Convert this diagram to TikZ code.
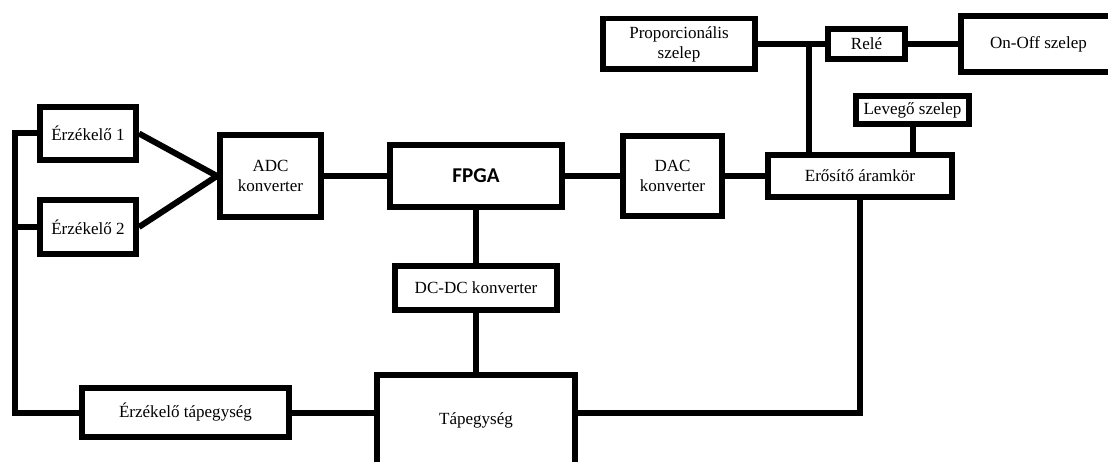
\documentclass[tikz,border=0pt]{standalone}
\usepackage{fontspec}
\setmainfont{Liberation Serif}
\newfontfamily\fpgafont{Carlito}
\tikzset{
  blokk/.style={draw, line width=1.2mm, inner sep=0pt, align=center,
    font=\fontsize{9.7}{11.5}\selectfont},
  vonal/.style={line width=1.2mm}
}
\begin{document}
\begin{tikzpicture}[x=0.02cm, y=-0.02cm]
  \useasboundingbox (0,0) rectangle (1108,462);
  \node[blokk, minimum width=1.92cm, minimum height=1.07cm] (erz1) at (88,133.5) {Érzékelő 1};
  \node[blokk, minimum width=1.92cm, minimum height=1.07cm] (erz2) at (88,227) {Érzékelő 2};
  \node[blokk, minimum width=2.02cm, minimum height=1.66cm] (adc) at (270.5,176) {ADC\\konverter};
  \node[blokk, minimum width=3.44cm, minimum height=1.24cm,
    font=\fpgafont\bfseries\fontsize{12}{14}\selectfont] (fpga) at (476,176) {FPGA};
  \node[blokk, minimum width=1.98cm, minimum height=1.62cm] (dac) at (672.5,176) {DAC\\konverter};
  \node[blokk, minimum width=3.26cm, minimum height=0.88cm] (dcdc) at (476,288) {DC-DC konverter};
  \node[blokk, minimum width=3.68cm, minimum height=0.84cm] (erosito) at (860,176) {Erősítő áramkör};
  \node[blokk, minimum width=3.04cm, minimum height=1.02cm] (prop) at (679,44) {Proporcionális\\szelep};
  \node[blokk, minimum width=1.54cm, minimum height=0.60cm] (rele) at (866.5,44) {Relé};
  \node[blokk, minimum width=3.10cm, minimum height=1.12cm] (onoff) at (1038.5,44) {On-Off szelep};
  \node[blokk, minimum width=2.26cm, minimum height=0.56cm] (levego) at (912.5,110) {Levegő szelep};
  \node[blokk, minimum width=4.14cm, minimum height=0.98cm] (erztap) at (185.5,412.5) {Érzékelő tápegység};
  \node[blokk, minimum width=3.96cm, minimum height=1.80cm] (tap) at (476,420) {Tápegység};
  \coordinate (sin) at (15,0);
  \coordinate (elag) at (809,0);
  \begin{scope}[vonal]
    \draw (erz1.west) -- (erz1.west -| sin) |- (erztap.west);
    \draw (erz2.west) -- (erz2.west -| sin);
    \draw (erz1.east) -- (adc.west);
    \draw (erz2.east) -- (adc.west);
    \draw (adc.east) -- (fpga.west);
    \draw (fpga.east) -- (dac.west);
    \draw (dac.east) -- (erosito.west);
    \draw (fpga.south) -- (dcdc.north);
    \draw (dcdc.south) -- (tap.north);
    \draw (erztap.east) -- (erztap.east -| tap.west);
    \draw (erztap.east -| tap.east) -| (erosito.south);
    \draw (prop.east) -- (rele.west);
    \draw (rele.east) -- (onoff.west);
    \draw (elag |- prop.east) -- (elag |- erosito.north);
    \draw (levego.south) -- (levego.south |- erosito.north);
  \end{scope}
\end{tikzpicture}
\end{document}
